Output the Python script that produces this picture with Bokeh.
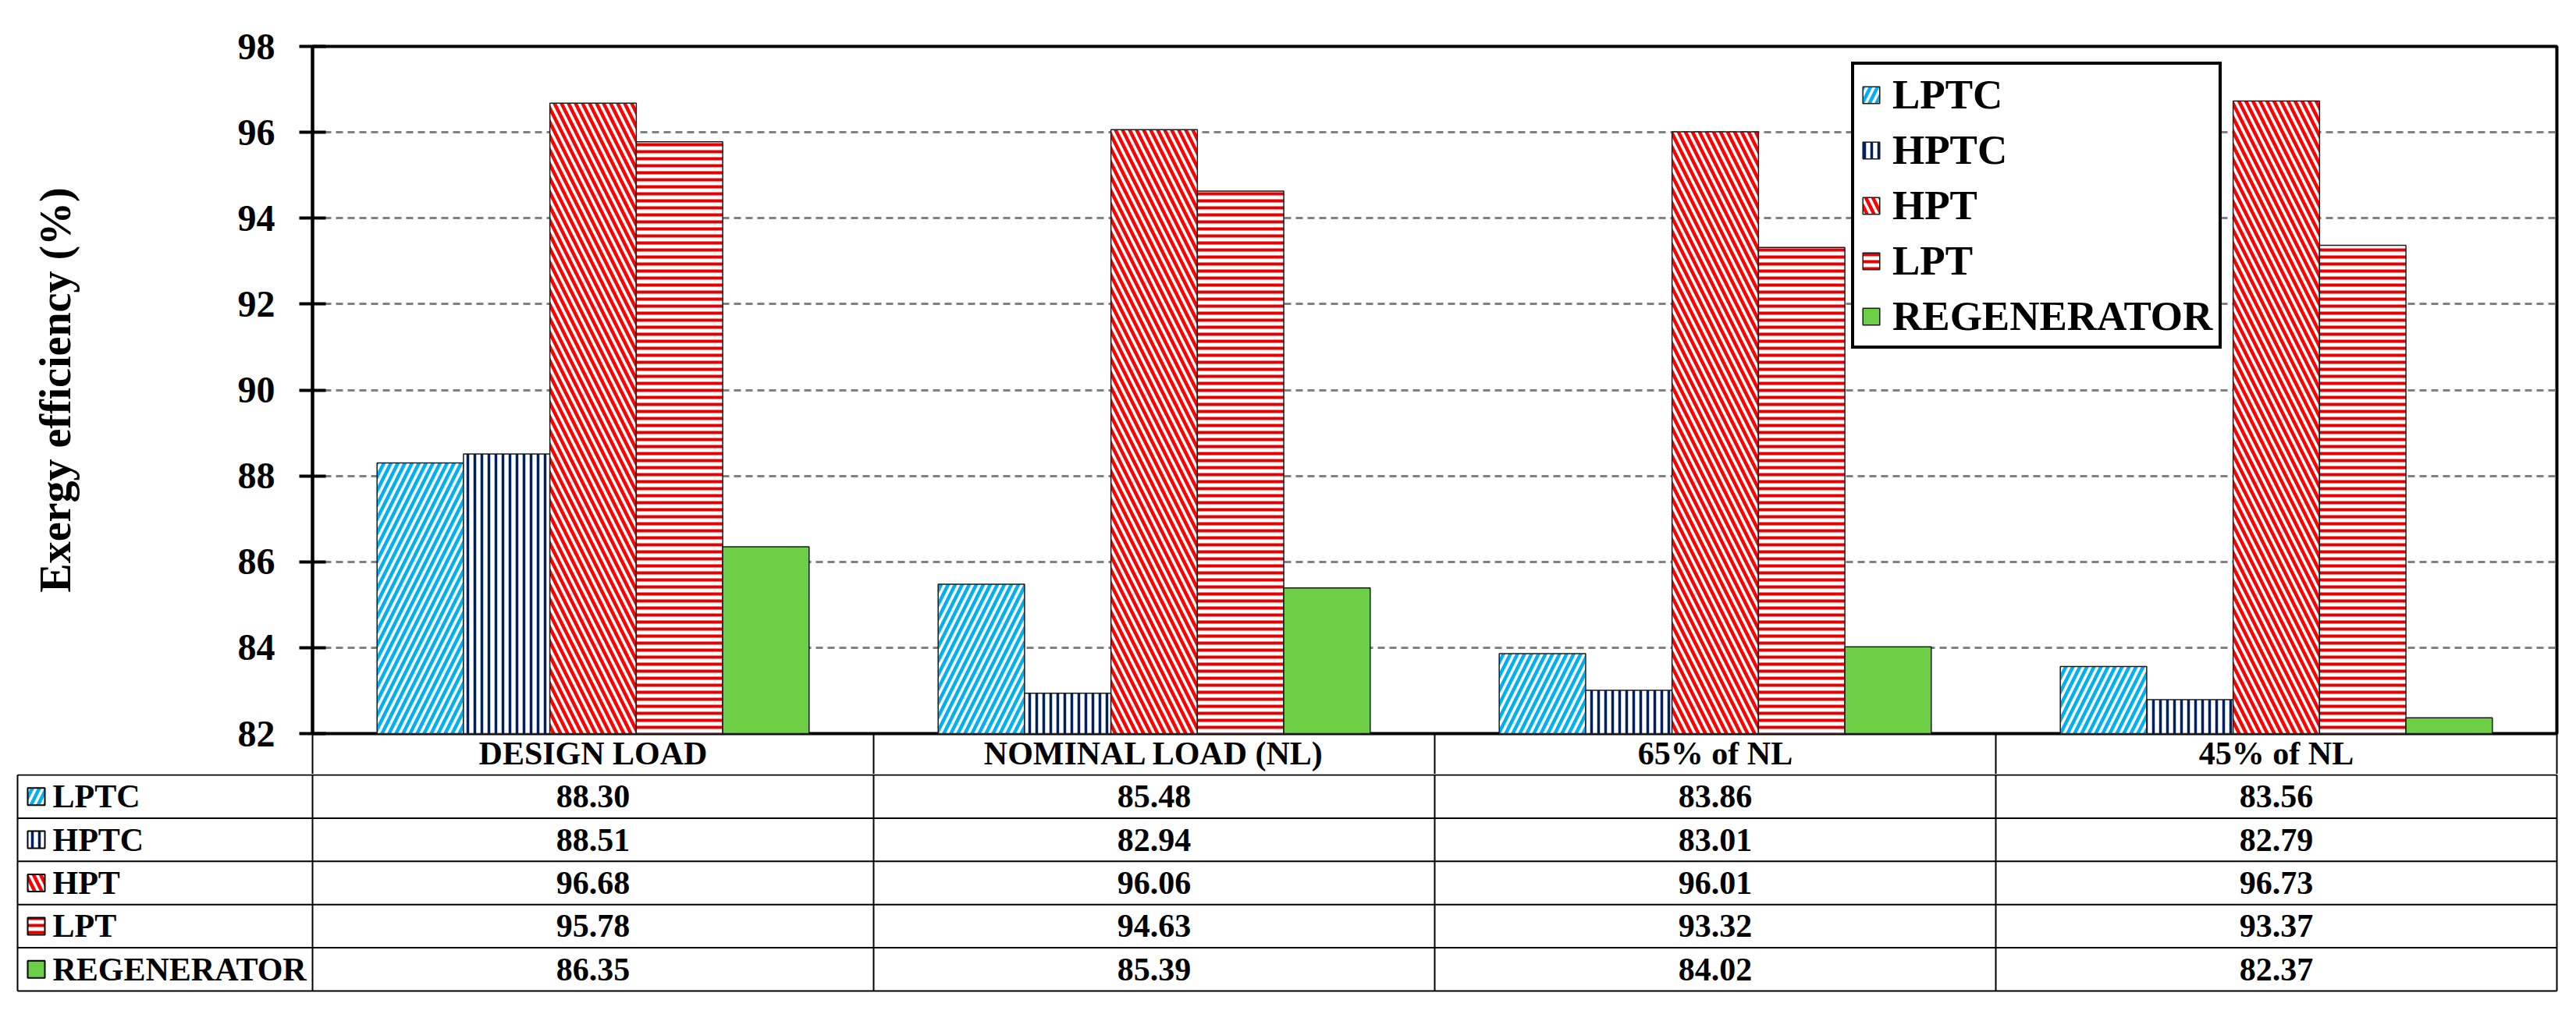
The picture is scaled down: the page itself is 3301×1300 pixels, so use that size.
from bokeh.plotting import figure
from bokeh.models import Range1d, FixedTicker, ColumnDataSource
from bokeh.core.properties import value
from bokeh.embed import file_html
from bokeh.resources import INLINE

# ---------------- data ----------------
categories = ["DESIGN LOAD", "NOMINAL LOAD (NL)", "65% of NL", "45% of NL"]
series = ["LPTC", "HPTC", "HPT", "LPT", "REGENERATOR"]
lptc = [88.30, 85.48, 83.86, 83.56]
hptc = [88.51, 82.94, 83.01, 82.79]
hpt = [96.68, 96.06, 96.01, 96.73]
lpt = [95.78, 94.63, 93.32, 93.37]
regenerator = [86.35, 85.39, 84.02, 82.37]
y_ticks = [82, 84, 86, 88, 90, 92, 94, 96, 98]
y_label = "Exergy efficiency (%)"

values = [lptc, hptc, hpt, lpt, regenerator]

# ---------------- styles ----------------
FONT = value("Liberation Serif")
styles = [
    dict(fill_color="white", hatch_pattern="/", hatch_color="#00B0F0", hatch_scale=18, hatch_weight=4.5),
    dict(fill_color="white", hatch_pattern="|", hatch_color="#002060", hatch_scale=9, hatch_weight=3.5),
    dict(fill_color="white", hatch_pattern="\\", hatch_color="#FF0000", hatch_scale=18, hatch_weight=4.5),
    dict(fill_color="white", hatch_pattern="-", hatch_color="#E60000", hatch_scale=9, hatch_weight=4),
    dict(fill_color="#6DCF45"),
]

PX = 719            # px per category
LEFT_A = 400        # left border of chart figure (page x of the y axis)
ncat = len(categories)
FRAME_W = PX * ncat
TOTAL_W = 3288
TOP_A = 59
FRAME_H = 881
HEADER_H = 52
Y0, Y1 = y_ticks[0], y_ticks[-1]
centers = [k + 0.5 for k in range(ncat)]

# ---------------- chart figure ----------------
pA = figure(x_range=Range1d(0, ncat), y_range=Range1d(Y0, Y1),
            width=TOTAL_W, height=TOP_A + FRAME_H + HEADER_H,
            min_border_left=LEFT_A, min_border_right=TOTAL_W - LEFT_A - FRAME_W,
            min_border_top=TOP_A, min_border_bottom=HEADER_H,
            output_backend="svg", toolbar_location=None)
pA.xgrid.visible = False
pA.outline_line_color = "black"
pA.outline_line_width = 4

ya = pA.yaxis[0]
ya.ticker = FixedTicker(ticks=y_ticks)
ya.axis_line_width = 4
ya.axis_line_color = "black"
ya.major_tick_line_width = 4
ya.major_tick_in = 17
ya.major_tick_out = 17
ya.minor_tick_line_color = None
ya.major_label_text_font = "Liberation Serif"
ya.major_label_text_font_style = "bold"
ya.major_label_text_font_size = "48px"
ya.major_label_text_color = "black"
ya.major_label_standoff = 31
ya.axis_label = y_label
ya.axis_label_text_font = "Liberation Serif"
ya.axis_label_text_font_style = "bold"
ya.axis_label_text_font_size = "56px"
ya.axis_label_text_color = "black"
ya.axis_label_standoff = 200

pA.ygrid.ticker = FixedTicker(ticks=y_ticks[1:-1])
pA.ygrid.grid_line_color = "#808080"
pA.ygrid.grid_line_width = 3
pA.ygrid.grid_line_dash = "9 6"

# header row: category names on the x axis, cell dividers as minor ticks
xa = pA.xaxis[0]
xa.ticker = FixedTicker(ticks=centers, minor_ticks=list(range(ncat + 1)))
xa.major_label_overrides = {c: name for c, name in zip(centers, categories)}
xa.axis_line_color = None
xa.major_tick_out = 0
xa.major_tick_in = 0
xa.major_tick_line_color = None
xa.minor_tick_out = 0
xa.minor_tick_in = -HEADER_H
xa.minor_tick_line_width = 2
xa.minor_tick_line_color = "black"
xa.major_label_standoff = 2
xa.major_label_text_font = "Liberation Serif"
xa.major_label_text_font_style = "bold"
xa.major_label_text_font_size = "42px"
xa.major_label_text_color = "black"

bw = 0.154
n = len(series)
for i, (name, vals, st) in enumerate(zip(series, values, styles)):
    off = (i - (n - 1) / 2) * bw
    src = ColumnDataSource(dict(x=[c + off for c in centers], top=vals))
    pA.vbar(x="x", top="top", bottom=Y0, width=bw,
            source=src, line_color="#1a1a1a", line_width=1.5, legend_label=name, **st)

lg = pA.legend[0]
lg.location = (1972, 493)
lg.border_line_color = "black"
lg.border_line_width = 4
lg.border_line_alpha = 1
lg.background_fill_alpha = 1
lg.label_text_font = "Liberation Serif"
lg.label_text_font_style = "bold"
lg.label_text_font_size = "53px"
lg.label_text_color = "black"
lg.glyph_width = 27
lg.glyph_height = 27
lg.label_height = 58
lg.spacing = 11
lg.padding = 8
lg.margin = 0
lg.label_standoff = 14

# ---------------- table figure ----------------
B_LEFT_PAGE = 16
x_start = (B_LEFT_PAGE - LEFT_A) / PX
x_end = ncat + 4 / PX
TAB_LEFT = (22 - LEFT_A) / PX

row_h = 55.4
n_rows = len(series)
table_h = row_h * n_rows
pB = figure(x_range=Range1d(x_start, x_end), y_range=Range1d(-3, table_h + 1),
            width=TOTAL_W, height=int(table_h + 4) + 4,
            min_border_left=B_LEFT_PAGE, min_border_right=TOTAL_W - LEFT_A - FRAME_W - 4,
            min_border_top=0, min_border_bottom=4,
            output_backend="svg", toolbar_location=None)
pB.axis.visible = False
pB.grid.visible = False
pB.outline_line_color = None

row_tops = [row_h * (n_rows - k) for k in range(n_rows)]
row_bounds = row_tops + [0]
row_centers = [t - row_h / 2 for t in row_tops]

pB.segment(x0=[TAB_LEFT] * len(row_bounds), x1=[ncat] * len(row_bounds),
           y0=row_bounds, y1=row_bounds, line_color="black", line_width=2)
vx = [TAB_LEFT] + list(range(ncat + 1))
pB.segment(x0=vx, x1=vx, y0=[0] * len(vx), y1=[table_h] * len(vx), line_color="black", line_width=2)

TXT = dict(text_font=FONT, text_font_style="bold", text_font_size="42px", text_color="black")
for r, (name, vals, st) in enumerate(zip(series, values, styles)):
    yc = row_centers[r]
    pB.text(x=centers, y=[yc] * ncat, text=[f"{v:.2f}" for v in vals],
            text_align="center", text_baseline="middle", **TXT)
    pB.scatter(x=[(46 - LEFT_A) / PX], y=[yc], marker="square", size=22,
               line_color="black", line_width=2, **st)
    pB.text(x=[(67 - LEFT_A) / PX], y=[yc], text=[name],
            text_align="left", text_baseline="middle", **TXT)

open("out.html", "w").write(file_html([pA, pB], INLINE))
